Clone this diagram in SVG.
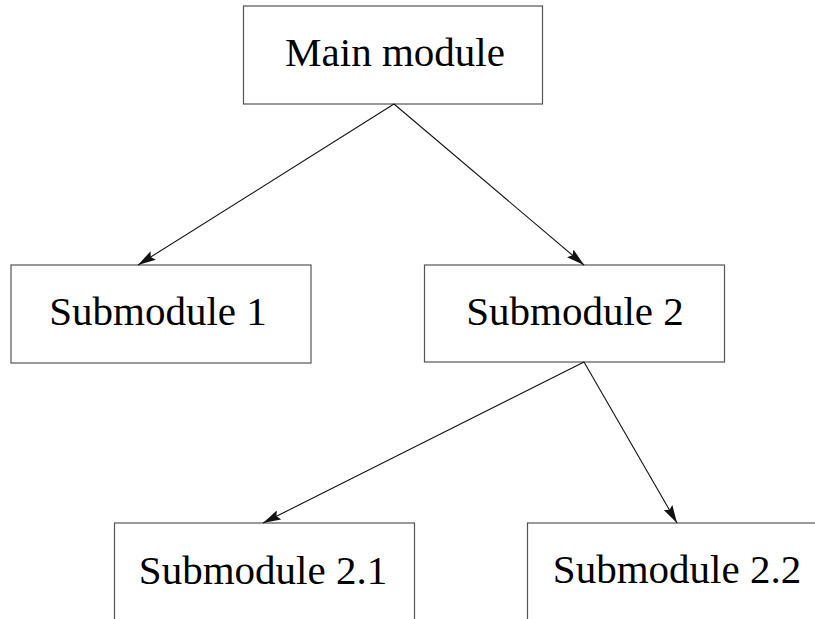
<svg xmlns="http://www.w3.org/2000/svg" width="815" height="619" viewBox="0 0 815 619">
<style>
.box{fill:#fff;stroke:#555;stroke-width:1.2}
.lbl{font-family:"Liberation Serif","DejaVu Serif",serif;font-size:41px;fill:#000;text-anchor:middle}
.edge{stroke:#111;stroke-width:1.1;fill:none}
</style>
<defs>
<marker id="ah" markerUnits="userSpaceOnUse" markerWidth="18" markerHeight="10" refX="18" refY="5" orient="auto">
<path d="M0,0 L18,5 L0,10 L3,5 z" fill="#111"/>
</marker>
</defs>
<rect width="815" height="619" fill="#fff"/>
<g id="main">
<rect class="box" x="243.5" y="6" width="299" height="98"/>
<text class="lbl" x="395" y="66">Main module</text>
</g>
<g id="sub1">
<rect class="box" x="11" y="265" width="300" height="98"/>
<text class="lbl" x="158" y="325">Submodule 1</text>
</g>
<g id="sub2">
<rect class="box" x="424.5" y="265" width="300" height="97"/>
<text class="lbl" x="575" y="325">Submodule 2</text>
</g>
<g id="sub21">
<rect class="box" x="114.5" y="523" width="300" height="98"/>
<text class="lbl" x="263" y="584">Submodule 2.1</text>
</g>
<g id="sub22">
<rect class="box" x="527.5" y="523" width="300" height="98"/>
<text class="lbl" x="677" y="583">Submodule 2.2</text>
</g>
<g id="connectors">
<line class="edge" x1="394" y1="104" x2="138" y2="265" marker-end="url(#ah)"/>
<line class="edge" x1="394" y1="104" x2="584" y2="265" marker-end="url(#ah)"/>
<line class="edge" x1="584" y1="362" x2="263" y2="523" marker-end="url(#ah)"/>
<line class="edge" x1="584" y1="362" x2="677" y2="523" marker-end="url(#ah)"/>
</g>
</svg>
